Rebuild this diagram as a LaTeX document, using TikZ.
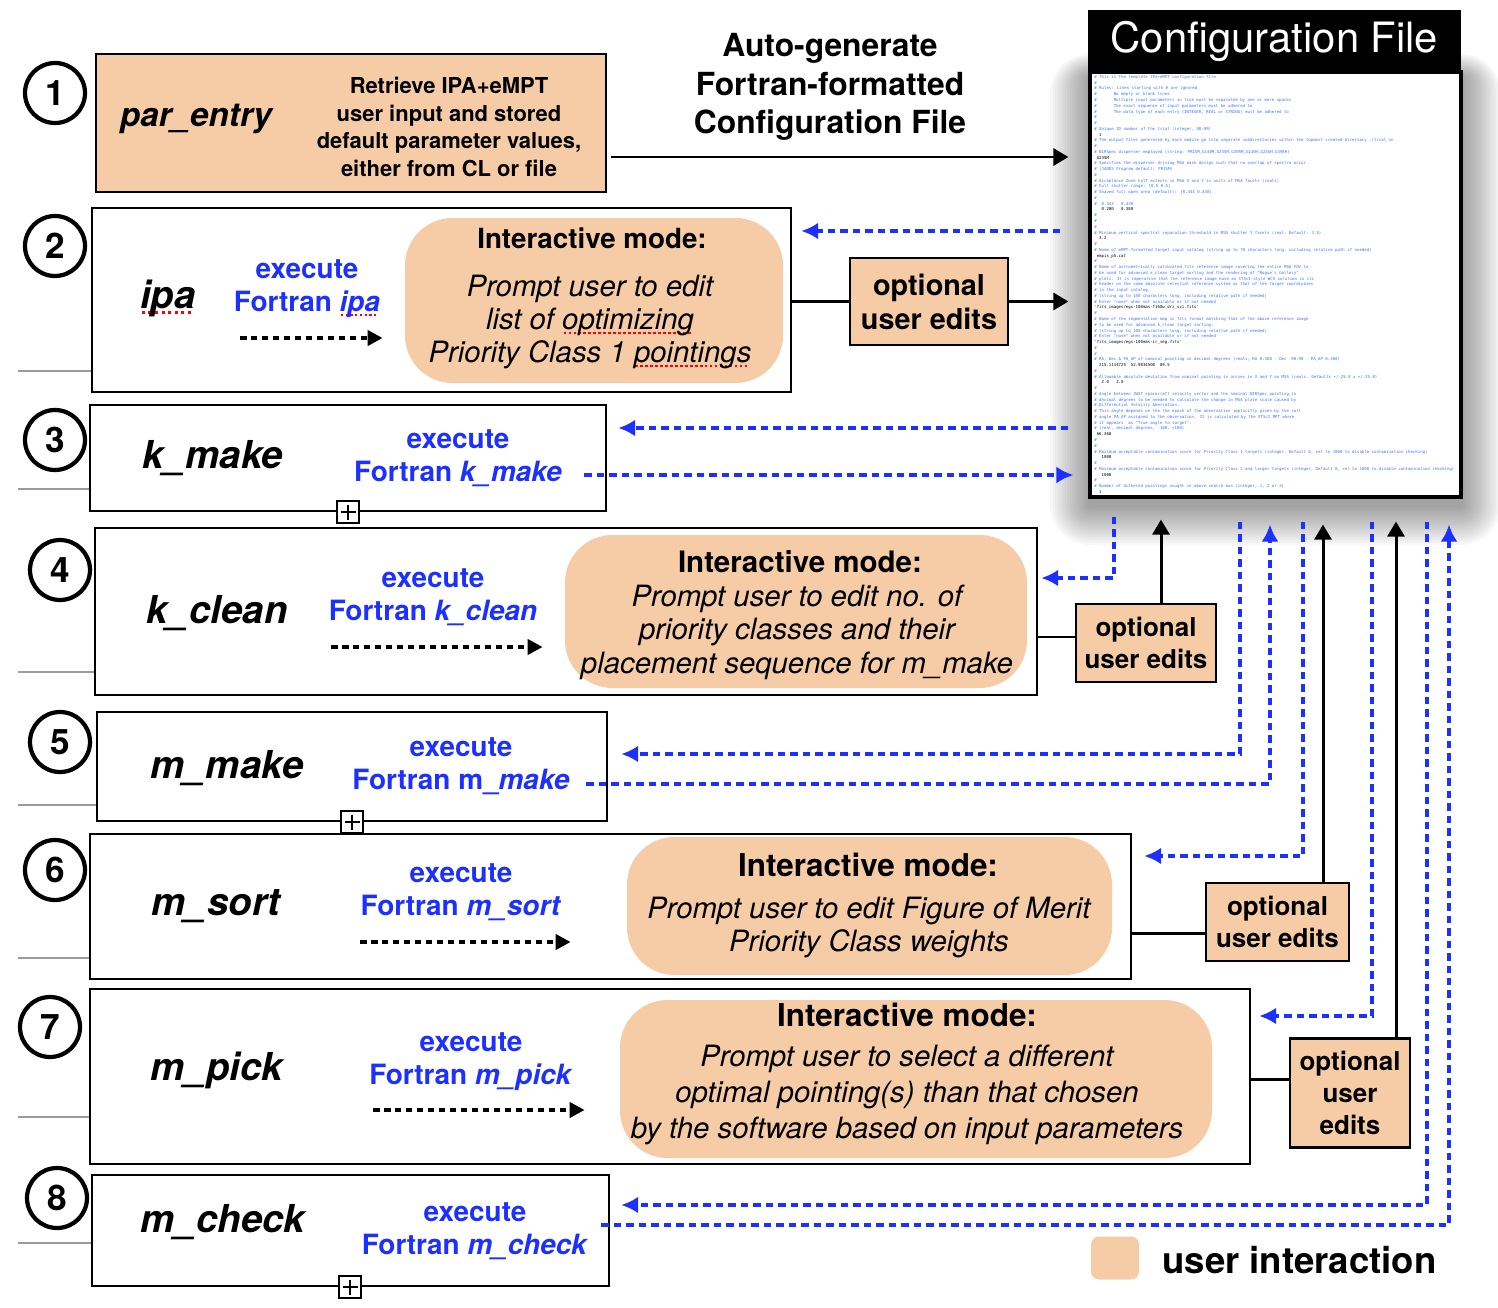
\documentclass[tikz,border=0pt]{standalone}
\usepackage{fontspec}
\setmainfont{TeX Gyre Heros}
\newfontfamily\cfgmono{DejaVu Sans Mono}
\usetikzlibrary{arrows.meta}

\definecolor{peach}{RGB}{246,204,167}
\definecolor{runblue}{RGB}{28,48,255}
\definecolor{fileblue}{RGB}{60,115,255}
\definecolor{stubgray}{RGB}{155,155,155}

\newcommand\fsz[2]{\fontsize{#1}{#2}\selectfont}
\newsavebox\spellbox
\newcommand\spellmark[1]{\sbox\spellbox{#1}\rlap{\color{red}\raisebox{-0.3ex}[0pt][0pt]{\hbox to \wd\spellbox{\leaders\hbox to 0.17em{\hss\rule{0.08em}{0.08em}\hss}\hfill}}}\usebox\spellbox}
\newcommand\cind{\hspace*{4.2em}}
\newcommand\cv[1]{\textcolor{black}{#1}}

\tikzset{
  boxsize/.style 2 args={minimum width=#1*0.02cm, minimum height=#2*0.02cm},
  modbox/.style={draw, line width=1.4pt, fill=white, inner sep=0pt},
  modname/.style={font=\fsz{21.9}{26}\bfseries\itshape},
  execlbl/.style={text=runblue, font=\fsz{15.9}{19}\bfseries, align=center},
  modeblob/.style={fill=peach, rounded corners=0.95cm, inner sep=0pt},
  modehead/.style={font=\fsz{#1}{#1}\bfseries},
  modetext/.style={font=\fsz{16.7}{19}\itshape, align=center},
  optbox/.style={draw, fill=peach, line width=1.4pt, inner sep=0pt, align=center, font=\fsz{14.8}{18}\bfseries},
  numring/.style={circle, draw, line width=2.4pt, minimum size=1.2cm, inner sep=0pt, font=\fsz{20}{20}\bfseries},
  plusbox/.style={draw, fill=white, line width=1pt, minimum size=0.44cm, inner sep=0pt,
    path picture={\draw[line width=0.9pt]
      ([yshift=-0.07cm]path picture bounding box.north) -- ([yshift=0.07cm]path picture bounding box.south)
      ([xshift=0.07cm]path picture bounding box.west) -- ([xshift=-0.07cm]path picture bounding box.east);}},
  stub/.style={draw=stubgray, line width=1.6pt},
  link/.style={line width=1.7pt},
  editflow/.style={line width=1.7pt, -{Triangle[length=0.3cm,width=0.34cm]}},
  runflow/.style={line width=2.2pt, dash pattern=on 0.13cm off 0.09cm, -{Triangle[length=0.3cm,width=0.3cm]}},
  cfgflow/.style={draw=runblue, line width=2pt, dash pattern=on 0.15cm off 0.1cm, -{Latex[length=0.34cm,width=0.34cm]}}
}

\begin{document}
\begin{tikzpicture}[x=0.02cm, y=-0.02cm]
\useasboundingbox (0,0) rectangle (1498,1308);

% configuration file with its shadow
\foreach \r in {1,...,16}
  \fill[black, opacity=0.028, rounded corners=\r*0.05cm] (1090-2.5*\r,78-1.5*\r) rectangle (1461+2.5*\r,505+2.5*\r);
\node[draw, line width=1.8pt, fill=white, boxsize={371}{425}, inner sep=0pt] (cfgbody) at (1275.5,284.5) {};
\node[fill=black, text=white, boxsize={373}{62}, inner sep=0pt, font=\fsz{23.8}{28}] (cfghead) at (1274.5,41) {Configuration File};
\node[anchor=north west, inner sep=0pt, align=left, text=fileblue, font=\cfgmono\fsz{2.3}{3.28}] (cfgtext) at (1094,75) {%
\# This is the template IPA+eMPT configuration file\\
\#\\
\# Rules: Lines starting with \# are ignored\\
\#\cind No empty or blank lines\\
\#\cind Multiple input parameters in line must be separated by one or more spaces\\
\#\cind The exact sequence of input parameters must be adhered to\\
\#\cind The data type of each entry (INTEGER, REAL or STRING) must be adhered to\\
\#\\
\#\\
\# Unique ID number of the trial (integer, 00:99)\\
\cv{\ \ 1}\\
\# The output files generated by each module go into separate subdirectories within the topmost created directory ./trial\_nn\\
\#\\
\# NIRSpec disperser employed (string: PRISM,G140M,G235M,G395M,G140H,G235H,G395H)\\
\cv{\ G235M}\\
\# Specifies the disperser driving MSA mask design such that no overlap of spectra occur\\
\# (JADES Program default: PRISM)\\
\#\\
\# Acceptance Zone half extents in MSA X and Y in units of MSA facets (reals)\\
\# Full shutter range: [0.5 0.5]\\
\# Shaved full open area (default): [0.343 0.430]\\
\#\\
\#\ \ 0.343\ \ \ 0.430\\
\cv{\ \ \ 0.200\ \ \ 0.380}\\
\#\\
\#\\
\#\\
\# Minimum vertical spectral separation threshold in MSA shutter Y facets (real, Default: 3.5)\\
\cv{\ \ 3.2}\\
\#\\
\# Name of eMPT-formatted target input catalog (string up to 70 characters long, including relative path if needed)\\
\cv{\ empis\_p5.cat}\\
\#\\
\# Name of astrometrically calibrated fits reference image covering the entire MSA FOV to\\
\# be used for advanced k\_clean target sorting and the rendering of "Rogue's Gallery"\\
\# plots. It is imperative that the reference image have an STScI-style WCS solution in its\\
\# header on the same absolute celestial reference system as that of the target coordinates\\
\# in the input catalog.\\
\# (string up to 100 characters long, including relative path if needed)\\
\# Enter "none" when not available or if not needed\\
\cv{'fits\_images/egs-100mas-f160w\_drz\_sci.fits'}\\
\#\\
\# Name of the segmentation map in fits format matching that of the above reference image\\
\# to be used for advanced k\_clean target sorting.\\
\# (string up to 100 characters long, including relative path if needed)\\
\# Enter "none" when not available or if not needed\\
\cv{'fits\_images/egs-100mas-ir\_seg.fits'}\\
\#\\
\#\\
\# RA, Dec \& PA\_AP of nominal pointing in decimal degrees (reals, RA 0:360 - Dec -90:90 - PA\_AP 0:360)\\
\cv{\ \ 215.1114725\ \ 52.9834500\ \ 89.5}\\
\#\\
\# Allowable absolute deviation from nominal pointing in arcsec in X and Y on MSA (reals. Defaults +/-25.0 x +/-25.0)\\
\cv{\ \ \ 2.0\ \ \ 2.0}\\
\#\\
\# Angle between JWST spacecraft velocity vector and the nominal NIRSpec pointing in\\
\# decimal degrees to be needed to calculate the change in MSA plate scale caused by\\
\# Differential Velocity Aberration.\\
\# This angle depends on the the epoch of the observation implicitly given by the roll\\
\# angle PA\_AP assigned to the observation. It is calculated by the STScI MPT where\\
\# it appears\ \ as "True angle to target".\\
\# (real, decimal degrees, -180, +180)\\
\cv{\ 66.368}\\
\#\\
\#\\
\# Maximum acceptable contamination score for Priority Class 1 targets (integer, Default 0, set to 1000 to disable contamination checking)\\
\cv{\ \ \ 1000}\\
\#\\
\# Maximum acceptable contamination score for Priority Class 2 and larger targets (integer, Default 0, set to 1000 to disable contamination checking)\\
\cv{\ \ \ 1000}\\
\#\\
\# Number of dithered pointings sought in above search box (integer, 1, 2 or 3)\\
\cv{\ \ 1}};

% 1 par_entry
\node[modbox, fill=peach, boxsize={510}{138}] (parbox) at (351,123) {};
\node[modname, font=\fsz{18.9}{22}\bfseries\itshape] (parname) at (196,119) {par\_entry};
\node[font=\fsz{12.5}{15.7}\bfseries, align=center] (parnote) at (449,127) {Retrieve IPA+eMPT\\user input and stored\\default parameter values,\\either from CL or file};
\node[font=\fsz{18.1}{22.1}\bfseries, align=center] (autogen) at (830,87) {Auto-generate\\Fortran-formatted\\Configuration File};

% 2 ipa
\node[modbox, boxsize={699}{184}] (ipabox) at (441.5,300) {};
\node[modname] (ipaname) at (168,298) {\spellmark{ipa}};
\node[execlbl] (ipaexec) at (307,288.5) {execute\\Fortran \textit{\spellmark{ipa}}};
\node[modeblob, boxsize={378}{165}] (ipablob) at (594,300.5) {};
\node[modehead=15.8] (ipahead) at (592,238) {Interactive mode:};
\node[modetext] (ipatext) at (590,322) {Prompt user to edit\\list of \spellmark{optimizing}\\Priority Class 1 \spellmark{pointings}};
\coordinate (iparun) at (240,338);
\node[optbox, boxsize={158}{87}, font=\fsz{16.4}{19.3}\bfseries] (ipaopt) at (929,301.5) {optional\\user edits};

% 3 k_make
\node[modbox, boxsize={516}{106}] (kmakebox) at (348,458) {};
\node[modname] (kmakename) at (213,458) {k\_make};
\node[execlbl] (kmakeexec) at (458,458) {execute\\Fortran \textit{k\_make}};

% 4 k_clean
\node[modbox, boxsize={942}{167}] (kcleanbox) at (566,611.5) {};
\node[modname] (kcleanname) at (217,613) {k\_clean};
\node[execlbl] (kcleanexec) at (433,597.5) {execute\\Fortran \textit{k\_clean}};
\node[modeblob, boxsize={462}{153}] (kcleanblob) at (796,611.5) {};
\node[modehead=16.8] (kcleanhead) at (800,562) {Interactive mode:};
\node[modetext] (kcleantext) at (797,632) {Prompt user to edit no. of\\priority classes and their\\placement sequence for m\_make};
\coordinate (kcleanrun) at (331,647);
\node[optbox, boxsize={140}{78}] (kcleanopt) at (1146,643) {optional\\user edits};

% 5 m_make
\node[modbox, boxsize={510}{109}] (mmakebox) at (352,766.5) {};
\node[modname] (mmakename) at (227,768) {m\_make};
\node[execlbl] (mmakeexec) at (461,766) {execute\\Fortran m\_\textit{make}};

% 6 m_sort
\node[modbox, boxsize={1041}{145}] (msortbox) at (610.5,906.5) {};
\node[modname] (msortname) at (216,906) {m\_sort};
\node[execlbl] (msortexec) at (461,892.5) {execute\\Fortran \textit{m\_sort}};
\node[modeblob, boxsize={485}{138}] (msortblob) at (869.5,906) {};
\node[modehead=17.9] (msorthead) at (868,865) {Interactive mode:};
\node[modetext, font=\fsz{16.7}{18.7}\itshape] (msorttext) at (869,927.5) {Prompt user to edit Figure of Merit\\Priority Class weights};
\coordinate (msortrun) at (360,942);
\node[optbox, boxsize={143}{78}] (msortopt) at (1277.5,922) {optional\\user edits};

% 7 m_pick
\node[modbox, boxsize={1160}{175}] (mpickbox) at (670,1076.5) {};
\node[modname] (mpickname) at (217,1070) {m\_pick};
\node[execlbl] (mpickexec) at (471,1061.5) {execute\\Fortran \textit{m\_pick}};
\node[modeblob, boxsize={592}{158}] (mpickblob) at (916,1079) {};
\node[modehead=17.9] (mpickhead) at (907,1015) {Interactive mode:};
\node[modetext, font=\fsz{16.7}{20.5}\itshape] (mpicktext) at (907,1095) {Prompt user to select a different\\optimal pointing(s) than that chosen\\by the software based on input parameters};
\coordinate (mpickrun) at (373,1110);
\node[optbox, boxsize={120}{109}] (mpickopt) at (1350,1093) {optional\\user\\edits};

% 8 m_check
\node[modbox, boxsize={517}{111}] (mcheckbox) at (350.5,1230.5) {};
\node[modname] (mcheckname) at (223,1222) {m\_check};
\node[execlbl] (mcheckexec) at (475,1231.5) {execute\\Fortran \textit{m\_check}};

% step numbers, stubs, collapse marks
\foreach \n/\cx/\cy in {1/55/93, 2/55/246, 3/55/440, 4/60/570, 5/60/742, 6/55/870, 7/50/1027, 8/57/1198}
  \node[numring] (num\n) at (\cx,\cy) {\n};
\foreach \b/\yy in {ipabox/371, kmakebox/489, kcleanbox/672, mmakebox/805, msortbox/958, mpickbox/1117, mcheckbox/1243}
  \draw[stub] (\b.west |- 0,\yy) -- (18,\yy);
\foreach \b/\px in {kmakebox/348, mmakebox/352, mcheckbox/350}
  \node[plusbox] (plus\b) at (\b.south -| \px,0) {};

% runs inside the boxes
\draw[runflow, shorten >=0.44cm] (iparun) -- (ipablob.west |- iparun);
\draw[runflow, shorten >=0.44cm] (kcleanrun) -- (kcleanblob.west |- kcleanrun);
\draw[runflow, shorten >=1.12cm] (msortrun) -- (msortblob.west |- msortrun);
\draw[runflow, shorten >=0.7cm] (mpickrun) -- (mpickblob.west |- mpickrun);

% writing the configuration file
\draw[editflow, shorten <=0.08cm, shorten >=0.4cm] (parbox.east |- 0,157) -- (cfgbody.west |- 0,157);
\draw[link] (ipabox.east |- ipaopt.west) -- (ipaopt.west);
\draw[editflow, shorten >=0.4cm] (ipaopt.east) -- (ipaopt.east -| cfgbody.west);
\draw[link] (kcleanbox.east |- 0,637) -- (kcleanopt.west |- 0,637);
\draw[editflow, shorten >=0.42cm] (kcleanopt.north -| 1161,0) -- (cfgbody.south -| 1161,0);
\draw[link] (msortbox.east |- 0,933) -- (msortopt.west |- 0,933);
\draw[editflow, shorten >=0.52cm] (msortopt.north -| 1323,0) -- (cfgbody.south -| 1323,0);
\draw[link] (mpickbox.east |- 0,1079) -- (mpickopt.west |- 0,1079);
\draw[editflow, shorten >=0.46cm] (mpickopt.north -| 1396,0) -- (cfgbody.south -| 1396,0);

% reading the configuration file
\draw[cfgflow, shorten <=0.56cm, shorten >=0.18cm] (cfgbody.west |- 0,231) -- (ipabox.east |- 0,231);
\draw[cfgflow, shorten <=0.4cm, shorten >=0.22cm] (cfgbody.west |- 0,428) -- (kmakebox.east |- 0,428);
\draw[cfgflow, shorten <=-0.46cm, shorten >=0.3cm] (kmakebox.east |- 0,475) -- (cfgbody.west |- 0,475);
\draw[cfgflow, shorten <=0.36cm, shorten >=0.06cm] (cfgbody.south -| 1114,0) |- (kcleanbox.east |- 0,578);
\draw[cfgflow, shorten <=0.46cm, shorten >=0.26cm] (cfgbody.south -| 1240,0) |- (mmakebox.east |- 0,754);
\draw[cfgflow, shorten <=-0.44cm, shorten >=0.52cm] (mmakebox.east |- 0,784) -| (cfgbody.south -| 1270,0);
\draw[cfgflow, shorten <=0.46cm, shorten >=0.24cm] (cfgbody.south -| 1303,0) |- (msortbox.east |- 0,856);
\draw[cfgflow, shorten <=0.46cm, shorten >=0.16cm] (cfgbody.south -| 1372,0) |- (mpickbox.east |- 0,1016);
\draw[cfgflow, shorten <=0.46cm, shorten >=0.22cm] (cfgbody.south -| 1427,0) |- (mcheckbox.east |- 0,1205);
\draw[cfgflow, shorten <=-0.18cm, shorten >=0.52cm] (mcheckbox.east |- 0,1225) -| (cfgbody.south -| 1449,0);

% legend
\node[fill=peach, rounded corners=0.16cm, boxsize={48}{43}, inner sep=0pt] (legkey) at (1115,1258) {};
\node[anchor=west, inner sep=0pt, font=\fsz{20.8}{24}\bfseries] (legtext) at (1162,1260) {user interaction};
\end{tikzpicture}
\end{document}
